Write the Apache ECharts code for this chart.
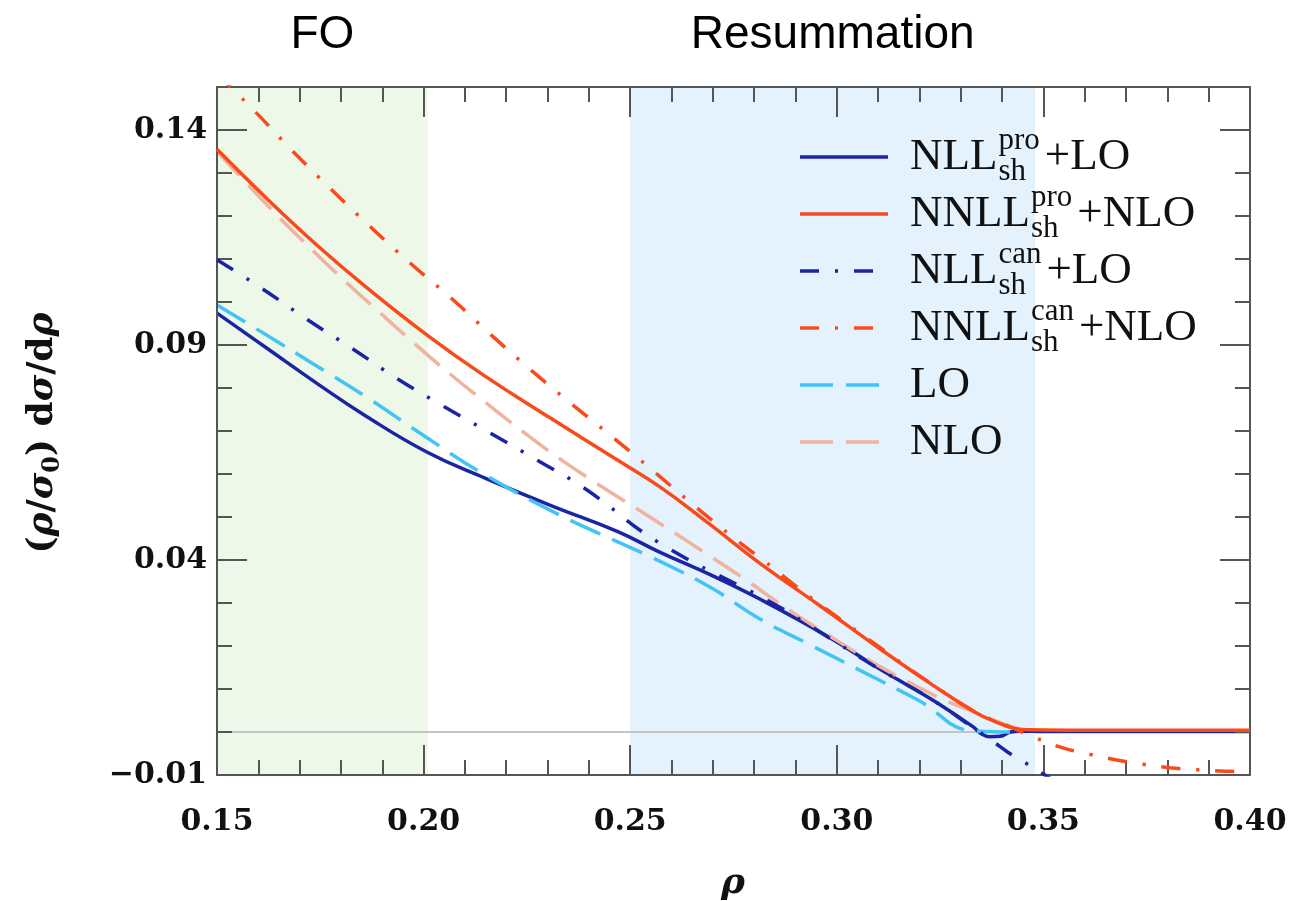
<!DOCTYPE html>
<html>
<head>
<meta charset="utf-8">
<script src="https://cdn.jsdelivr.net/npm/echarts@6/dist/echarts.min.js"></script>
<style>
  html, body { margin: 0; padding: 0; background: #ffffff; }
  #chart { width: 1310px; height: 901px; }
</style>
</head>
<body>
<div id="chart"></div>
<script>
// rho distribution: fixed-order vs. resummed predictions, [rho, (rho/sigma0) dsigma/drho]
const nllPro = [
  [0.150, 0.0974], [0.162, 0.0893], [0.174, 0.0812], [0.186, 0.0735], [0.201, 0.0650],
  [0.215, 0.0590], [0.231, 0.0526], [0.247, 0.0466], [0.257, 0.0419], [0.270, 0.0363],
  [0.281, 0.0311], [0.2975, 0.0224], [0.3105, 0.0146], [0.3226, 0.0078], [0.333, 0.0012],
  [0.3348, -0.0003], [0.337, -0.0011], [0.3395, -0.0010], [0.342, 0.0000], [0.3445, 0.0002],
  [0.350, 0.0001], [0.400, 0.0001]
];
const nnllPro = [
  [0.150, 0.1355], [0.1621, 0.1240], [0.1742, 0.1132], [0.1863, 0.1033], [0.201, 0.0922],
  [0.2145, 0.0830], [0.2307, 0.0730], [0.2468, 0.0633], [0.2572, 0.0570], [0.269, 0.0485],
  [0.2814, 0.0392], [0.296, 0.0293], [0.3105, 0.0193], [0.3226, 0.0113], [0.3338, 0.0044],
  [0.3379, 0.0026], [0.3427, 0.0009], [0.3468, 0.0005], [0.360, 0.0004], [0.400, 0.0004]
];
const nllCan = [
  [0.150, 0.1098], [0.1605, 0.1034], [0.1714, 0.0962], [0.1827, 0.0892], [0.1936, 0.0822],
  [0.2049, 0.0757], [0.2162, 0.0695], [0.2275, 0.0632], [0.2392, 0.0565], [0.2572, 0.0439],
  [0.2846, 0.0299], [0.296, 0.0232], [0.3105, 0.0145], [0.3226, 0.0078], [0.333, 0.0010],
  [0.3378, -0.0022], [0.3414, -0.0047], [0.3455, -0.0071], [0.3499, -0.0097], [0.353, -0.0117]
];
const nnllCan = [
  [0.150, 0.1530], [0.1588, 0.1447], [0.1681, 0.1353], [0.1774, 0.1264], [0.1871, 0.1175],
  [0.1968, 0.1090], [0.2069, 0.1007], [0.2164, 0.0923], [0.2262, 0.0840], [0.2363, 0.0759],
  [0.2466, 0.0679], [0.2567, 0.0598], [0.2668, 0.0516], [0.277, 0.0437], [0.2824, 0.0398],
  [0.290, 0.0340], [0.296, 0.0296], [0.3105, 0.0196], [0.3226, 0.0114], [0.3338, 0.0045],
  [0.340, 0.0020], [0.344, 0.0003], [0.3484, -0.0015], [0.3547, -0.0037], [0.3613, -0.0052],
  [0.3677, -0.0065], [0.3741, -0.0075], [0.3806, -0.0083], [0.3874, -0.0088], [0.3939, -0.0091],
  [0.400, -0.0093]
];
const lo = [
  [0.150, 0.0993], [0.162, 0.0923], [0.174, 0.0852], [0.186, 0.0780], [0.201, 0.0683],
  [0.2145, 0.0600], [0.232, 0.0509], [0.247, 0.0442], [0.257, 0.0398], [0.270, 0.0333],
  [0.281, 0.0265], [0.2935, 0.0203], [0.3055, 0.0144], [0.3195, 0.0075], [0.3333, 0.0002],
  [0.343, 0.0000]
];
const nlo = [
  [0.150, 0.1350], [0.1645, 0.1202], [0.1722, 0.1129], [0.1807, 0.1051], [0.1891, 0.0978],
  [0.1976, 0.0905], [0.2061, 0.0835], [0.2145, 0.0770], [0.2238, 0.0700], [0.2327, 0.0637],
  [0.2416, 0.0580], [0.2508, 0.0524], [0.2596, 0.0470], [0.2685, 0.0414], [0.2778, 0.0355],
  [0.2867, 0.0295], [0.2975, 0.0228], [0.3105, 0.0152], [0.3226, 0.0090], [0.3266, 0.0072],
  [0.3338, 0.0044], [0.3375, 0.0030], [0.3427, 0.0011], [0.346, 0.0004]
];
const zeroLine = [[0.15, 0], [0.40, 0]];

// shaded regions and their headings
const foBand = [0.15, 0.201];
const resumBand = [0.25, 0.348];
const bandTitles = ['FO', 'Resummation'];

// axis ticks
const xRange = [0.15, 0.40];
const yRange = [-0.01, 0.15];
const yMajor = [-0.01, 0.04, 0.09, 0.14];

const NAVY = '#1b24a3';
const RED = '#f94a1c';
const SKY = '#43c4f2';
const SALMON = '#efb39e';
const DASH = [33, 13];
const DASHDOT = [19, 16, 3, 16];

// curves (drawing order) + legend text pieces
const curves = [
  { name: 'NLL_sh^pro+LO',    data: nllPro,  color: NAVY,   dash: null,    main: 'NLL',  sup: 'pro', sub: 'sh', tail: '+LO',  row: 0 },
  { name: 'LO',               data: lo,      color: SKY,    dash: DASH,    main: 'LO',                            row: 4 },
  { name: 'NLO',              data: nlo,     color: SALMON, dash: DASH,    main: 'NLO',                           row: 5 },
  { name: 'NNLL_sh^pro+NLO',  data: nnllPro, color: RED,    dash: null,    main: 'NNLL', sup: 'pro', sub: 'sh', tail: '+NLO', row: 1 },
  { name: 'NLL_sh^can+LO',    data: nllCan,  color: NAVY,   dash: DASHDOT, main: 'NLL',  sup: 'can', sub: 'sh', tail: '+LO',  row: 2 },
  { name: 'NNLL_sh^can+NLO',  data: nnllCan, color: RED,    dash: DASHDOT, main: 'NNLL', sup: 'can', sub: 'sh', tail: '+NLO', row: 3 }
];

const FRAME = '#555555';
const LABEL_FONT = 'DejaVu Serif';
const LINE_W = 3.5;

function fmtTick(v) {
  const s = Math.abs(v).toFixed(2);
  return v < -1e-9 ? '\u2212' + s : s;
}

function axisX(position, interval, tickLen, showLine, showLabel) {
  return {
    type: 'value', position: position, min: xRange[0], max: xRange[1], interval: interval,
    z: 5,
    axisLine: { show: showLine, onZero: false, lineStyle: { color: FRAME, width: 2 } },
    axisTick: { show: true, inside: true, length: tickLen, lineStyle: { color: FRAME, width: 2 } },
    axisLabel: {
      show: showLabel, margin: 32, fontFamily: LABEL_FONT, fontWeight: 'bold', fontSize: 30,
      color: '#111111', formatter: v => v.toFixed(2)
    },
    splitLine: { show: false }
  };
}

function axisY(position, major, showLine, showLabel) {
  const ax = {
    type: 'value', position: position, min: yRange[0], max: yRange[1],
    z: 5,
    axisLine: { show: showLine, onZero: false, lineStyle: { color: FRAME, width: 2 } },
    axisTick: { show: true, inside: true, length: major ? 30 : 15, lineStyle: { color: FRAME, width: 2 } },
    axisLabel: {
      show: showLabel, margin: 10, fontFamily: LABEL_FONT, fontWeight: 'bold', fontSize: 30,
      color: '#111111', formatter: fmtTick
    },
    splitLine: { show: false }
  };
  if (major) {
    ax.axisTick.customValues = yMajor;
    ax.axisLabel.customValues = yMajor;
  } else {
    ax.interval = 0.01;
  }
  return ax;
}

const chart = echarts.init(document.getElementById('chart'), null, { renderer: 'canvas' });

const series = [{
  name: 'zero', type: 'line', data: zeroLine, symbol: 'none', silent: true, z: 1,
  lineStyle: { color: '#c4c4c4', width: 2 },
  markArea: {
    silent: true,
    data: [
      [{ xAxis: foBand[0], itemStyle: { color: '#edf8e9' } }, { xAxis: foBand[1] }],
      [{ xAxis: resumBand[0], itemStyle: { color: '#e3f2fd' } }, { xAxis: resumBand[1] }]
    ]
  }
}];
curves.forEach((c, i) => {
  series.push({
    name: c.name, type: 'line', data: c.data, symbol: 'none', showSymbol: false,
    smooth: 0.45, clip: true, z: 2 + i,
    itemStyle: { color: c.color },
    lineStyle: { color: c.color, width: LINE_W, type: c.dash || 'solid', cap: 'butt' }
  });
});

chart.setOption({
  animation: false,
  backgroundColor: '#ffffff',
  grid: { left: 217, right: 60, top: 87, bottom: 126 },
  xAxis: [
    axisX('bottom', 0.05, 30, true, true),
    axisX('bottom', 0.01, 15, false, false),
    axisX('top', 0.05, 30, true, false),
    axisX('top', 0.01, 15, false, false)
  ],
  yAxis: [
    axisY('left', true, true, true),
    axisY('left', false, false, false),
    axisY('right', true, true, false),
    axisY('right', false, false, false)
  ],
  series: series
});

// measured text widths for the legend layout
const measureCtx = document.createElement('canvas').getContext('2d');
function textWidth(font, s) { measureCtx.font = font; return measureCtx.measureText(s).width; }

const MAIN_FONT = '45px "Liberation Serif"';
const SCRIPT_FONT = '31px "Liberation Serif"';
const graphics = [];

// legend
curves.forEach(c => {
  const y = 157 + 57 * c.row;
  graphics.push({
    type: 'line', silent: true, z: 20,
    shape: { x1: 800, y1: y, x2: 888, y2: y },
    style: { stroke: c.color, lineWidth: LINE_W, lineDash: c.dash || null, lineCap: 'butt' }
  });
  const x0 = 910;
  graphics.push({
    type: 'text', x: x0, y: y, z: 20, silent: true,
    style: { text: c.main, font: MAIN_FONT, fill: '#111111', align: 'left', verticalAlign: 'middle' }
  });
  if (c.sup) {
    const xs = x0 + textWidth(MAIN_FONT, c.main) + 1;
    graphics.push({
      type: 'text', x: xs, y: y - 16.5, z: 20, silent: true,
      style: { text: c.sup, font: SCRIPT_FONT, fill: '#111111', align: 'left', verticalAlign: 'middle' }
    });
    graphics.push({
      type: 'text', x: xs, y: y + 14.5, z: 20, silent: true,
      style: { text: c.sub, font: SCRIPT_FONT, fill: '#111111', align: 'left', verticalAlign: 'middle' }
    });
    const xt = xs + Math.max(textWidth(SCRIPT_FONT, c.sup), textWidth(SCRIPT_FONT, c.sub)) + 5;
    graphics.push({
      type: 'text', x: xt, y: y, z: 20, silent: true,
      style: { text: c.tail, font: MAIN_FONT, fill: '#111111', align: 'left', verticalAlign: 'middle' }
    });
  }
});

// region headings above the frame
[foBand, resumBand].forEach((b, i) => {
  const cx = chart.convertToPixel({ xAxisIndex: 0 }, (b[0] + b[1]) / 2);
  graphics.push({
    type: 'text', x: cx, y: 35, silent: true,
    style: { text: bandTitles[i], font: '46px "Liberation Sans"', fill: '#000000', align: 'center', verticalAlign: 'middle' }
  });
});

// axis titles
const mathRich = {
  p: { fontFamily: LABEL_FONT, fontWeight: 'bold', fontSize: 36, lineHeight: 44, fill: '#111111' },
  g: { fontFamily: LABEL_FONT, fontWeight: 'bold', fontStyle: 'italic', fontSize: 36, lineHeight: 44, fill: '#111111' },
  s: { fontFamily: LABEL_FONT, fontWeight: 'bold', fontSize: 24, lineHeight: 24, verticalAlign: 'bottom', fill: '#111111' }
};
graphics.push({
  type: 'text', x: 43, y: 433, rotation: Math.PI / 2, silent: true,
  style: {
    text: '{p|(}{g|\u03C1}{p|/}{g|\u03C3}{s|0}{p|) d}{g|\u03C3}{p|/d}{g|\u03C1}',
    rich: mathRich, align: 'center', verticalAlign: 'middle'
  }
});
graphics.push({
  type: 'text', x: 733, y: 884, silent: true,
  style: {
    text: '{g|\u03C1}', rich: { g: { fontFamily: LABEL_FONT, fontWeight: 'bold', fontStyle: 'italic', fontSize: 36, fill: '#111111' } },
    align: 'center', verticalAlign: 'middle'
  }
});

chart.setOption({ graphic: graphics });
</script>
</body>
</html>
